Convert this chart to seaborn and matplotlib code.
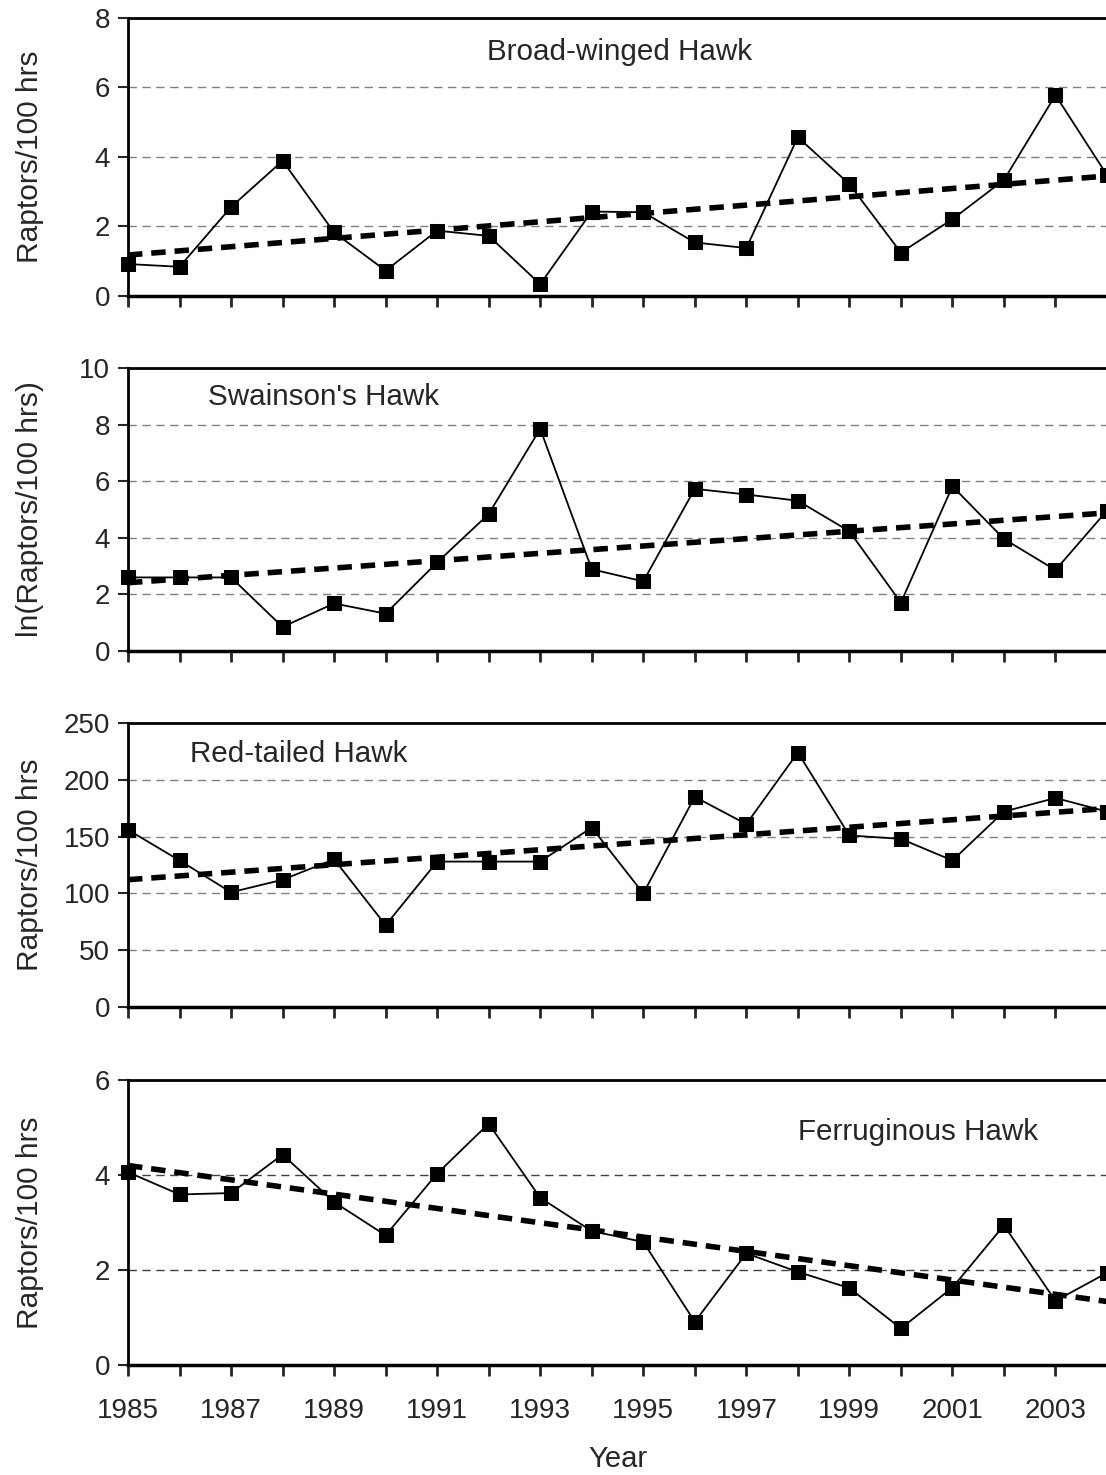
import numpy as np
import pandas as pd
import seaborn as sns
import matplotlib.pyplot as plt

years = list(range(1985, 2005))

broad_winged = [0.92, 0.84, 2.56, 3.89, 1.83, 0.73, 1.88, 1.73, 0.34, 2.43,
                2.41, 1.54, 1.38, 4.57, 3.22, 1.25, 2.21, 3.34, 5.78, 3.48]
swainsons = [2.60, 2.60, 2.60, 0.85, 1.68, 1.32, 3.13, 4.84, 7.85, 2.89,
             2.46, 5.73, 5.53, 5.31, 4.23, 1.71, 5.82, 3.96, 2.86, 4.96]
red_tailed = [156, 129, 101, 112, 130, 72, 128, 128, 128, 158,
              100, 185, 161, 224, 151, 148, 129, 172, 184, 172]
ferruginous = [4.06, 3.59, 3.62, 4.43, 3.43, 2.73, 4.03, 5.08, 3.52, 2.82,
               2.59, 0.91, 2.35, 1.96, 1.62, 0.77, 1.63, 2.94, 1.35, 1.94]

names = ["Broad-winged Hawk", "Swainson's Hawk", "Red-tailed Hawk", "Ferruginous Hawk"]
ylabels = ["Raptors/100 hrs", "ln(Raptors/100 hrs)", "Raptors/100 hrs", "Raptors/100 hrs"]
ymaxes = [8, 10, 250, 6]
ysteps = [2, 2, 50, 2]

sns.set_style("ticks")
plt.rcParams['font.family'] = ['Liberation Sans', 'DejaVu Sans']
plt.rcParams['font.size'] = 20

fig = plt.figure(figsize=(11.06, 14.75), dpi=100)

# panel boxes in pixels: (top, bottom)
boxes = [(18, 296), (368, 651), (723, 1007), (1080, 1365)]
# species label positions inside each panel (axes fraction)
label_pos = [(0.5025, 0.878, 'center'), (0.0817, 0.8975, 'left'),
             (0.0633, 0.891, 'left'), (0.684, 0.8175, 'left')]

series = [broad_winged, swainsons, red_tailed, ferruginous]
W, H = 1106, 1475
left = 128 / W
width = 979 / W

for i, vals in enumerate(series):
    top, bot = boxes[i]
    ax = fig.add_axes([left, 1 - bot / H, width, (bot - top) / H])
    df = pd.DataFrame({'Year': years, 'value': vals})

    # linear trend
    sns.regplot(data=df, x='Year', y='value', ax=ax, scatter=False, ci=None,
                color='black', truncate=True,
                line_kws=dict(linewidth=4, linestyle=(0, (2.6, 1.6)), zorder=3))
    sns.lineplot(data=df, x='Year', y='value', ax=ax, color='black',
                 linewidth=1.3, marker='s', markersize=10.5, markeredgecolor='black',
                 clip_on=False, zorder=4)

    ax.set_xlim(1985, 2004)
    ax.set_ylim(0, ymaxes[i])
    ax.set_yticks(np.arange(0, ymaxes[i] + 1, ysteps[i]))
    ax.set_xticks(years)
    gcol = '#404040' if i == 3 else '#808080'
    for yv in np.arange(ysteps[i], ymaxes[i], ysteps[i]):
        ax.axhline(yv, color=gcol, linewidth=1, linestyle=(0, (6, 4)), zorder=1)

    for s in ['left', 'bottom', 'top']:
        ax.spines[s].set_linewidth(2)
        ax.spines[s].set_color('black')
    ax.spines['bottom'].set_linewidth(2.5)
    ax.spines['right'].set_visible(False)
    ax.tick_params(axis='y', direction='out', length=7, width=1.5, pad=6, labelsize=20)
    ax.tick_params(axis='x', direction='out', length=8, width=2, pad=16, labelsize=20)

    if i == 3:
        ax.set_xticklabels([str(y) if y % 2 == 1 else '' for y in years])
        ax.set_xlabel('Year', fontsize=21, labelpad=15)
    else:
        ax.set_xticklabels([])
        ax.set_xlabel('')

    ax.set_ylabel('')
    fig.text(30 / W, 1 - ((top + bot) / 2) / H, ylabels[i], rotation=90,
             ha='center', va='center', fontsize=21.5)

    lx, ly, ha = label_pos[i]
    ax.text(lx, ly, names[i], transform=ax.transAxes, ha=ha, va='center', fontsize=21.3)

fig.savefig('out.png', dpi=100)
